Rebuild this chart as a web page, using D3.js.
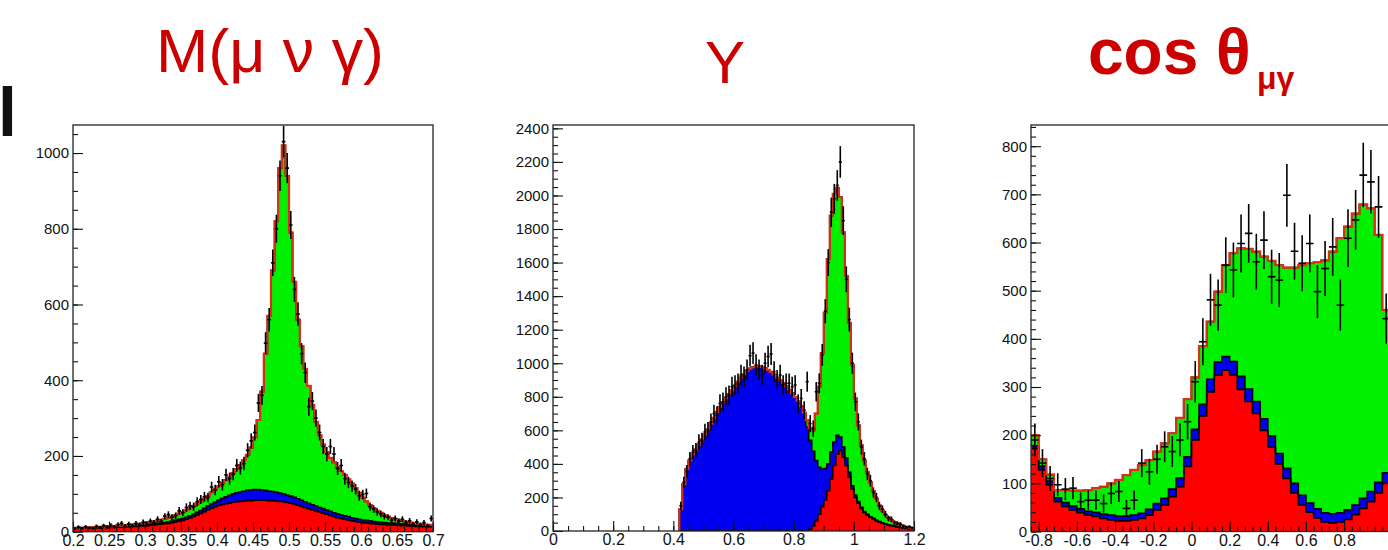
<!DOCTYPE html>
<html><head><meta charset="utf-8">
<script src="https://cdn.jsdelivr.net/npm/d3@7"></script>
<style>body{margin:0;background:#fff;overflow:hidden;} svg{display:block;}</style>
</head><body>
<svg id="c" width="1388" height="550"></svg>
<script>
// ---------------- Panel 1 : M(mu nu gamma), bins of 0.005 from 0.2 ----------------
const massStart = 0.2, massBin = 0.005;
const massRed = [9,9,9,9,10,10,10,10,11,11, 11,12,12,12,13,13,14,14,15,15, 16,17,18,19,20,21,22,24,26,28, 30,33,36,40,44,48,53,58,62,66, 69,72,74,76,78,79,80,81,82,82, 83,83,83,83,82,82,81,80,79,77, 75,73,70,67,64,61,58,55,52,49, 46,43,40,37,35,33,31,29,27,25, 24,23,22,21,20,19,19,18,18,17, 17,16,16,15,15,14,14,13,13,13];
const massBlue = [1,1,1,1,1,1,1,1,1,1, 1,1,1,1,1,1,2,2,2,2, 2,2,3,3,3,3,4,4,4,5, 5,5,6,6,7,8,9,10,11,12, 14,16,18,20,22,24,25,26,27,28, 28,28,27,26,25,24,23,22,21,20, 19,18,17,16,15,14,13,13,12,12, 11,11,10,10,9,9,9,8,8,8, 7,7,7,6,6,6,5,5,5,5, 4,4,4,4,3,3,3,3,3,3];
const massGreen = [0,0,0,1,0,1,1,2,1,2, 2,2,3,3,3,4,3,4,4,5, 6,6,6,7,8,10,11,12,14,15, 17,19,20,22,23,24,25,27,31,34, 37,40,44,49,55,62,71,82,94,112, 139,184,260,361,463,584,716,858,920,843, 696,569,473,407,351,310,264,222,191,169, 153,141,133,123,116,108,98,90,80,70, 59,50,41,35,29,25,20,17,13,11, 10,8,6,5,4,4,3,3,2,2];
const massData = [8,12,9,13,10,9,14,11,16,12, 17,13,19,22,15,20,16,22,18,25, 21,28,24,33,27,41,45,38,42,55, 50,64,68,66,79,85,92,90,118,110, 132,124,150,140,152,175,168,180,215,240, 262,340,360,498,560,710,800,940,1030,960, 810,640,575,470,420,330,345,300,262,225, 205,225,205,167,175,140,130,120,112,95, 98,101,66,60,52,47,41,38,30,35, 28,33,24,29,20,26,18,24,16,35];
const massErr = [4,5,4,5,4,4,5,4,5,5, 5,5,6,6,5,6,5,6,6,7, 6,7,7,8,7,8,9,8,9,10, 9,11,11,11,12,12,13,13,14,14, 15,15,16,16,16,17,17,18,19,20, 21,24,25,29,31,35,37,40,42,40, 37,33,31,28,27,24,24,23,21,20, 19,20,19,17,17,16,15,15,14,13, 13,13,11,10,10,9,9,8,7,8, 7,8,7,7,6,7,6,7,5,8];
const massXTicks = [0.2,0.25,0.3,0.35,0.4,0.45,0.5,0.55,0.6,0.65,0.7];
const massXLabels = ["0.2","0.25","0.3","0.35","0.4","0.45","0.5","0.55","0.6","0.65","0.7"];
const massYTicks = [0,200,400,600,800,1000];
const massYLabels = ["0","200","400","600","800","1000"];

// ---------------- Panel 2 : Y, bins of 0.01 from 0.42 ----------------
const yStart = 0.42, yBin = 0.01;
const yRed = [0,0,0,0,0,0,0,0,0,0, 0,0,0,0,0,0,0,0,0,0, 0,0,0,0,0,0,0,0,0,0, 0,0,0,0,0,0,0,0,0,0, 0,
  0,0,10,30,60,100,145,185,240,310, 390,460,480,440,390,320,250,200,165,135, 110,95,82,72,62,54,47,41,36,32, 28,24,21,18,15,13,10];
const yBlue = [130,280,370,420,455,485,515,545,575,605, 640,675,710,740,765,790,815,840,865,890, 915,935,955,968,976,980,982,978,970,960, 948,932,915,897,880,862,842,822,800,775, 745,
  705,620,530,445,360,280,225,187,160,160, 140,110,80,60,45,30,20,15,10,7, 6,4,3,3,2,2,1,1,1,1, 1,1,1,1,1,0,1];
const yGreen = [0,0,0,0,0,0,0,0,0,0, 0,0,0,0,0,0,0,0,0,0, 0,0,0,0,0,0,0,0,0,0, 0,0,0,0,0,0,0,0,0,0, 0,
  0,40,75,125,280,480,690,928,1220,1410, 1480,1475,1430,1280,1085,890,720,575,455,368, 304,251,205,163,128,96,74,55,43,32, 24,19,15,12,9,7,5];
const yData = [150,290,355,430,470,480,530,540,590,600, 650,700,690,760,770,800,810,860,870,880, 930,920,960,1045,1060,990,960,930,1000,1040, 1055,950,900,930,870,880,880,860,870,760, 790,720,890,640,610,830,880,1050,1310,1600, 1900,1980,2060,2200,1850,1500,1260,1000,770,650, 500,430,340,300,230,200,150,130,100,75, 70,50,45,40,28,22,25,18];
const yErr = [25,34,38,41,43,44,46,46,49,49, 51,53,53,55,55,57,57,59,59,59, 61,61,62,65,65,63,62,61,63,64, 65,62,60,61,59,59,59,59,59,55, 56,54,60,51,49,58,59,65,72,80, 87,89,91,94,86,77,71,63,55,51, 45,41,37,35,30,28,24,23,20,17, 17,14,13,13,11,9,10,8];
const yXTicks = [0,0.2,0.4,0.6,0.8,1,1.2];
const yXLabels = ["0","0.2","0.4","0.6","0.8","1","1.2"];
const yYTicks = [0,200,400,600,800,1000,1200,1400,1600,1800,2000,2200,2400];
const yYLabels = ["0","200","400","600","800","1000","1200","1400","1600","1800","2000","2200","2400"];

// ---------------- Panel 3 : cos theta, bins of 0.04 from -0.84 ----------------
const cosStart = -0.84, cosBin = 0.04;
const cosRed = [172,128,97,62,52,45,39,34,31,27,24,22,22,24,27,34,45,55,72,93,135,190,240,290,325,335,325,295,270,245,210,175,140,110,80,55,40,28,20,18,20,25,35,48,62,80,100];
const cosBlue = [6,8,8,8,8,8,8,8,9,9,10,10,10,10,11,12,13,14,16,18,20,22,24,26,27,28,28,27,26,25,24,23,22,21,20,20,19,19,19,19,19,20,20,21,21,22,22];
const cosGreen = [22,14,13,16,26,32,38,44,50,57,66,75,85,94,100,102,108,114,116,125,120,108,121,120,146,190,225,266,291,311,337,364,391,417,448,478,498,512,524,544,570,588,605,610,588,514,338];
const cosData = [190,142,110,97,88,90,62,65,65,58,79,83,48,65,142,124,150,176,166,190,228,311,394,481,470,553,543,598,619,560,605,529,522,698,582,557,598,498,546,591,470,609,647,740,726,674,442];
const cosErr = [34,29,26,24,23,23,19,20,20,19,22,22,17,20,29,27,30,32,32,34,37,43,49,54,53,58,57,60,61,58,60,56,56,65,59,58,60,55,57,60,53,60,62,67,66,64,52];
const cosXTicks = [-0.8,-0.6,-0.4,-0.2,0,0.2,0.4,0.6,0.8];
const cosXLabels = ["-0.8","-0.6","-0.4","-0.2","0","0.2","0.4","0.6","0.8"];
const cosYTicks = [0,100,200,300,400,500,600,700,800];
const cosYLabels = ["0","100","200","300","400","500","600","700","800"];

// ---------------- drawing ----------------
const svg = d3.select("#c");
const FONT = "'Liberation Sans', Arial, Helvetica, sans-serif";
const RED = "#ff0000", BLUE = "#0000f0", GREEN = "#00f000", TOTAL = "#d8301a";

const panels = [
  {id:"m", start:massStart, bin:massBin, red:massRed, blue:massBlue, green:massGreen, data:massData, err:massErr,
   xTicks:massXTicks, xLabels:massXLabels, yTicks:massYTicks, yLabels:massYLabels,
   xDomain:[0.2,0.7], yDomain:[0,1074], left:73, right:433, top:125, bottom:531.7,
   xMinorStep:0.01, yMinorStep:50},
  {id:"y", start:yStart, bin:yBin, red:yRed, blue:yBlue, green:yGreen, data:yData, err:yErr,
   xTicks:yXTicks, xLabels:yXLabels, yTicks:yYTicks, yLabels:yYLabels,
   xDomain:[0,1.2], yDomain:[0,2420], left:553, right:914, top:125, bottom:531,
   xMinorStep:0.05, yMinorStep:50},
  {id:"c", start:cosStart, bin:cosBin, red:cosRed, blue:cosBlue, green:cosGreen, data:cosData, err:cosErr,
   xTicks:cosXTicks, xLabels:cosXLabels, yTicks:cosYTicks, yLabels:cosYLabels,
   xDomain:[-0.84,1.04], yDomain:[0,844], left:1031, right:1390, top:125, bottom:531.5,
   xMinorStep:0.04, yMinorStep:20}
];

const defs = svg.append("defs");

panels.forEach(p => {
  const x = d3.scaleLinear().domain(p.xDomain).range([p.left, p.right]);
  const y = d3.scaleLinear().domain(p.yDomain).range([p.bottom, p.top]);
  defs.append("clipPath").attr("id","clip-"+p.id).append("rect")
    .attr("x",p.left).attr("y",p.top).attr("width",p.right-p.left).attr("height",p.bottom-p.top);
  const g = svg.append("g").attr("clip-path","url(#clip-"+p.id+")");

  const rows = p.red.map((r,i)=>({i:i, red:r, blue:p.blue[i], green:p.green[i]}));
  const layers = d3.stack().keys(["red","blue","green"])(rows);
  const edge = i => p.start + i*p.bin;
  const n = rows.length;

  const stepPts = layer => {
    const pts = [];
    layer.forEach((d,i)=>{ pts.push({x:edge(i), y0:d[0], y1:d[1]}); pts.push({x:edge(i+1), y0:d[0], y1:d[1]}); });
    return pts;
  };
  const area = d3.area().x(d=>x(d.x)).y0(d=>y(d.y0)).y1(d=>y(d.y1));
  const line = d3.line().x(d=>x(d.x)).y(d=>y(d.y1));
  const colors = [RED, BLUE, GREEN];

  layers.forEach((L,k)=>{
    g.append("path").attr("d", area(stepPts(L))).attr("fill", colors[k]).attr("stroke","none");
  });
  layers.forEach((L,k)=>{
    const pts = [{x:edge(0), y1:0}].concat(stepPts(L)).concat([{x:edge(n), y1:0}]);
    g.append("path").attr("d", line(pts)).attr("fill","none").attr("stroke","#000").attr("stroke-width",1.6);
  });
  const top = layers[2];
  const tpts = [{x:edge(0), y1:0}].concat(stepPts(top)).concat([{x:edge(n), y1:0}]);
  g.append("path").attr("d", line(tpts)).attr("fill","none").attr("stroke",TOTAL).attr("stroke-width",2.2);

  const pts = g.append("g").attr("stroke","#000").attr("stroke-width",1.6);
  p.data.forEach((v,i)=>{
    const xc = x(edge(i) + p.bin/2);
    pts.append("line").attr("x1",xc).attr("x2",xc).attr("y1",y(v - p.err[i])).attr("y2",y(v + p.err[i]));
    pts.append("line").attr("x1",x(edge(i))).attr("x2",x(edge(i+1))).attr("y1",y(v)).attr("y2",y(v));
  });

  const styleAxis = sel => {
    sel.select(".domain").remove();
    sel.selectAll("line").attr("stroke","#111").attr("stroke-width",1.1);
    sel.selectAll("text").attr("font-family",FONT).attr("fill","#111");
  };
  const xMinor = d3.range(p.xDomain[0], p.xDomain[1] + 1e-9, p.xMinorStep);
  const yMinor = d3.range(0, p.yDomain[1], p.yMinorStep);

  const gxm = svg.append("g").attr("transform",`translate(0,${p.bottom})`)
    .call(d3.axisBottom(x).tickValues(xMinor.filter(v=>x(v)<=1388)).tickFormat(()=>"").tickSizeInner(-5).tickSizeOuter(0));
  styleAxis(gxm);
  const gx = svg.append("g").attr("transform",`translate(0,${p.bottom})`)
    .call(d3.axisBottom(x).tickValues(p.xTicks).tickFormat((d,i)=>p.xLabels[i]).tickSizeInner(-10).tickSizeOuter(0).tickPadding(3));
  styleAxis(gx);
  gx.selectAll("text").attr("font-size",16);

  const gym = svg.append("g").attr("transform",`translate(${p.left},0)`)
    .call(d3.axisLeft(y).tickValues(yMinor).tickFormat(()=>"").tickSizeInner(-5).tickSizeOuter(0));
  styleAxis(gym);
  const gy = svg.append("g").attr("transform",`translate(${p.left},0)`)
    .call(d3.axisLeft(y).tickValues(p.yTicks).tickFormat((d,i)=>p.yLabels[i]).tickSizeInner(-10).tickSizeOuter(0).tickPadding(4));
  styleAxis(gy);
  gy.selectAll("text").attr("font-size",15);

  svg.append("rect").attr("x",p.left).attr("y",p.top).attr("width",p.right-p.left).attr("height",p.bottom-p.top)
    .attr("fill","none").attr("stroke","#222").attr("stroke-width",1.3);
});

// titles
svg.append("text").attr("x",156).attr("y",72).attr("font-family",FONT).attr("font-size",61)
  .attr("fill","#cc0000").attr("textLength",228).attr("lengthAdjust","spacingAndGlyphs").text("M(μ ν γ)");
svg.append("text").attr("x",725).attr("y",83).attr("text-anchor","middle").attr("font-family",FONT)
  .attr("font-size",60).attr("fill","#cc0000").text("Y");
svg.append("text").attr("x",1088).attr("y",74).attr("font-family",FONT).attr("font-weight","bold")
  .attr("font-size",64).attr("fill","#cc0000").text("cos θ");
svg.append("text").attr("x",1257).attr("y",89).attr("font-family",FONT).attr("font-weight","bold")
  .attr("font-size",32).attr("fill","#cc0000").text("μγ");
// cut-off glyph at the left edge
svg.append("text").attr("x",-2).attr("y",136).attr("font-family",FONT).attr("font-weight","bold")
  .attr("font-size",68).attr("fill","#111").text("l");
</script>
</body></html>
